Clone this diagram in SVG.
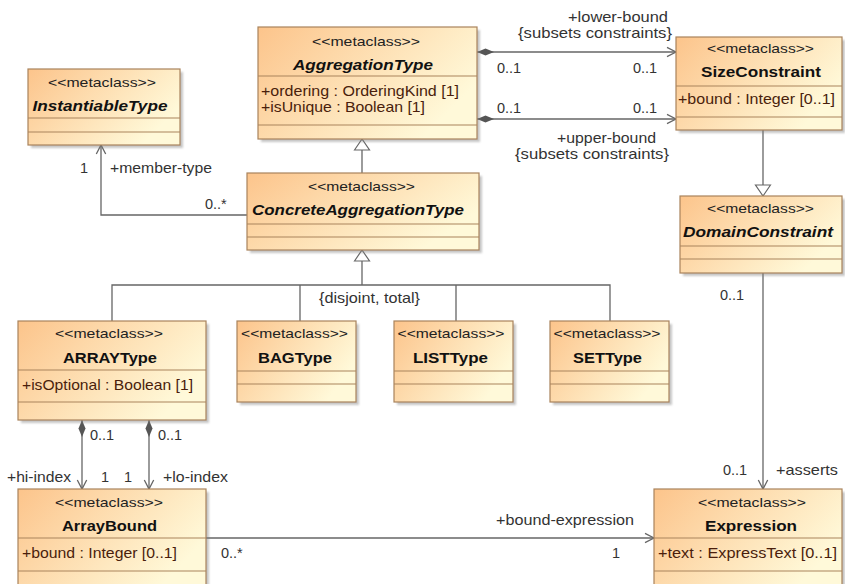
<svg xmlns="http://www.w3.org/2000/svg" width="845" height="584" viewBox="0 0 845 584">
<defs>
<linearGradient id="g" x1="0" y1="0" x2="1" y2="0.5">
<stop offset="0" stop-color="#FCC48B"/>
<stop offset="1" stop-color="#FFF9D9"/>
</linearGradient>
<filter id="blur" x="-5%" y="-5%" width="110%" height="110%"><feGaussianBlur stdDeviation="1"/></filter>
<marker id="arr" markerUnits="userSpaceOnUse" viewBox="0 0 12 12" markerWidth="12" markerHeight="12" refX="10" refY="6" orient="auto">
<path d="M1,1.3 L10,6 L1,10.7" fill="none" stroke="#666" stroke-width="1.3"/>
</marker>
<marker id="tri" markerUnits="userSpaceOnUse" viewBox="0 0 14 18" markerWidth="14" markerHeight="18" refX="12" refY="9" orient="auto">
<path d="M1,1.5 L12,9 L1,16.5 Z" fill="#fff" stroke="#666" stroke-width="1.2"/>
</marker>
<marker id="dia" markerUnits="userSpaceOnUse" viewBox="0 0 20 10" markerWidth="20" markerHeight="10" refX="0" refY="5" orient="auto">
<path d="M0,5 L8.5,1.5 L17,5 L8.5,8.5 Z" fill="#555"/>
</marker>
</defs>
<style>
.sh{fill:#808080;opacity:.45;filter:url(#blur)}
.box{fill:url(#g);stroke:#A9835C;stroke-width:1.2}
.dv{stroke:#A9835C;stroke-width:1.2}
text{font-family:"Liberation Sans",Arial,sans-serif}
.st{font-size:13px;text-anchor:middle;fill:#222}
.nm{font-size:15px;font-weight:bold;text-anchor:middle;fill:#111}
.it{font-style:italic}
.at{font-size:14.5px;fill:#4a1e0c}
.lb{font-size:14.5px;fill:#333}
.c{fill:none;stroke:#666;stroke-width:1.3}
</style>

<g id="connectors">
<path class="c" d="M247,215 H101 V145" marker-end="url(#arr)"/>
<path class="c" d="M362,173 V139" marker-end="url(#tri)"/>
<path class="c" d="M477,52 H676" marker-start="url(#dia)" marker-end="url(#arr)"/>
<path class="c" d="M477,119 H676" marker-start="url(#dia)" marker-end="url(#arr)"/>
<path class="c" d="M763,130 V196" marker-end="url(#tri)"/>
<path class="c" d="M362,285 V250" marker-end="url(#tri)"/>
<path class="c" d="M112,321 V285 H610 V321 M300,285 V321 M456,285 V321"/>
<path class="c" d="M82,420 V489" marker-start="url(#dia)" marker-end="url(#arr)"/>
<path class="c" d="M149,420 V489" marker-start="url(#dia)" marker-end="url(#arr)"/>
<path class="c" d="M206,538 H654" marker-end="url(#arr)"/>
<path class="c" d="M763,273 V489" marker-end="url(#arr)"/>
<text class="lb" x="80" y="173">1</text>
<text class="lb" x="110" y="173" textLength="102" lengthAdjust="spacingAndGlyphs">+member-type</text>
<text class="lb" x="205" y="209">0..*</text>
<text class="lb" x="568" y="21.5" textLength="100" lengthAdjust="spacingAndGlyphs">+lower-bound</text>
<text class="lb" x="518" y="38" textLength="154" lengthAdjust="spacingAndGlyphs">{subsets constraints}</text>
<text class="lb" x="497" y="73">0..1</text>
<text class="lb" x="633" y="73">0..1</text>
<text class="lb" x="497" y="113">0..1</text>
<text class="lb" x="633" y="113">0..1</text>
<text class="lb" x="557" y="143" textLength="99" lengthAdjust="spacingAndGlyphs">+upper-bound</text>
<text class="lb" x="515" y="158.5" textLength="154" lengthAdjust="spacingAndGlyphs">{subsets constraints}</text>
<text class="lb" x="319" y="303" textLength="101" lengthAdjust="spacingAndGlyphs">{disjoint, total}</text>
<text class="lb" x="720" y="300">0..1</text>
<text class="lb" x="90" y="440">0..1</text>
<text class="lb" x="158" y="440">0..1</text>
<text class="lb" x="7" y="482" textLength="64" lengthAdjust="spacingAndGlyphs">+hi-index</text>
<text class="lb" x="101" y="482">1</text>
<text class="lb" x="124" y="482">1</text>
<text class="lb" x="163" y="482" textLength="65" lengthAdjust="spacingAndGlyphs">+lo-index</text>
<text class="lb" x="221" y="558">0..*</text>
<text class="lb" x="723" y="475">0..1</text>
<text class="lb" x="776" y="475" textLength="62" lengthAdjust="spacingAndGlyphs">+asserts</text>
<text class="lb" x="496" y="525" textLength="138" lengthAdjust="spacingAndGlyphs">+bound-expression</text>
<text class="lb" x="612" y="558">1</text>
</g>

<g id="InstantiableType">
<rect class="sh" x="31" y="72" width="152" height="76"/>
<rect class="box" x="28" y="69" width="152" height="76"/>
<line class="dv" x1="28" y1="118" x2="180" y2="118"/>
<line class="dv" x1="28" y1="132" x2="180" y2="132"/>
<text class="st" x="102" y="87" textLength="108" lengthAdjust="spacingAndGlyphs">&lt;&lt;metaclass&gt;&gt;</text>
<text class="nm it" x="100" y="110.5" textLength="135" lengthAdjust="spacingAndGlyphs">InstantiableType</text>
</g>

<g id="AggregationType">
<rect class="sh" x="261" y="30" width="219" height="112"/>
<rect class="box" x="258" y="27" width="219" height="112"/>
<line class="dv" x1="258" y1="76" x2="477" y2="76"/>
<line class="dv" x1="258" y1="125" x2="477" y2="125"/>
<text class="st" x="366" y="45.5" textLength="108" lengthAdjust="spacingAndGlyphs">&lt;&lt;metaclass&gt;&gt;</text>
<text class="nm it" x="363" y="70" textLength="140" lengthAdjust="spacingAndGlyphs">AggregationType</text>
<text class="at" x="261" y="95.5" textLength="198" lengthAdjust="spacingAndGlyphs">+ordering : OrderingKind [1]</text>
<text class="at" x="261" y="111.5" textLength="164" lengthAdjust="spacingAndGlyphs">+isUnique : Boolean [1]</text>
</g>

<g id="ConcreteAggregationType">
<rect class="sh" x="250" y="176" width="232" height="77"/>
<rect class="box" x="247" y="173" width="232" height="77"/>
<line class="dv" x1="247" y1="224" x2="479" y2="224"/>
<line class="dv" x1="247" y1="237" x2="479" y2="237"/>
<text class="st" x="361.5" y="191" textLength="107" lengthAdjust="spacingAndGlyphs">&lt;&lt;metaclass&gt;&gt;</text>
<text class="nm it" x="358" y="215" textLength="212" lengthAdjust="spacingAndGlyphs">ConcreteAggregationType</text>
</g>

<g id="SizeConstraint">
<rect class="sh" x="679" y="40" width="166" height="93"/>
<rect class="box" x="676" y="37" width="166" height="93"/>
<line class="dv" x1="676" y1="86" x2="842" y2="86"/>
<line class="dv" x1="676" y1="117" x2="842" y2="117"/>
<text class="st" x="760.5" y="53" textLength="107" lengthAdjust="spacingAndGlyphs">&lt;&lt;metaclass&gt;&gt;</text>
<text class="nm" x="761" y="77" textLength="120" lengthAdjust="spacingAndGlyphs">SizeConstraint</text>
<text class="at" x="678" y="104" textLength="157" lengthAdjust="spacingAndGlyphs">+bound : Integer [0..1]</text>
</g>

<g id="DomainConstraint">
<rect class="sh" x="683" y="199" width="162" height="77"/>
<rect class="box" x="680" y="196" width="162" height="77"/>
<line class="dv" x1="680" y1="246" x2="842" y2="246"/>
<line class="dv" x1="680" y1="259" x2="842" y2="259"/>
<text class="st" x="760.5" y="213" textLength="107" lengthAdjust="spacingAndGlyphs">&lt;&lt;metaclass&gt;&gt;</text>
<text class="nm it" x="758" y="237" textLength="150" lengthAdjust="spacingAndGlyphs">DomainConstraint</text>
</g>

<g id="ARRAYType">
<rect class="sh" x="21" y="324" width="188" height="99"/>
<rect class="box" x="18" y="321" width="188" height="99"/>
<line class="dv" x1="18" y1="370" x2="206" y2="370"/>
<line class="dv" x1="18" y1="402" x2="206" y2="402"/>
<text class="st" x="109" y="338" textLength="108" lengthAdjust="spacingAndGlyphs">&lt;&lt;metaclass&gt;&gt;</text>
<text class="nm" x="110" y="362.5" textLength="94" lengthAdjust="spacingAndGlyphs">ARRAYType</text>
<text class="at" x="22" y="390" textLength="171" lengthAdjust="spacingAndGlyphs">+isOptional : Boolean [1]</text>
</g>

<g id="BAGType">
<rect class="sh" x="240" y="324" width="119" height="81"/>
<rect class="box" x="237" y="321" width="119" height="81"/>
<line class="dv" x1="237" y1="371" x2="356" y2="371"/>
<line class="dv" x1="237" y1="384" x2="356" y2="384"/>
<text class="st" x="294.5" y="338" textLength="107" lengthAdjust="spacingAndGlyphs">&lt;&lt;metaclass&gt;&gt;</text>
<text class="nm" x="295" y="362.5" textLength="74" lengthAdjust="spacingAndGlyphs">BAGType</text>
</g>

<g id="LISTType">
<rect class="sh" x="397" y="324" width="119" height="81"/>
<rect class="box" x="394" y="321" width="119" height="81"/>
<line class="dv" x1="394" y1="371" x2="513" y2="371"/>
<line class="dv" x1="394" y1="384" x2="513" y2="384"/>
<text class="st" x="451" y="338" textLength="107" lengthAdjust="spacingAndGlyphs">&lt;&lt;metaclass&gt;&gt;</text>
<text class="nm" x="450.5" y="362.5" textLength="75" lengthAdjust="spacingAndGlyphs">LISTType</text>
</g>

<g id="SETType">
<rect class="sh" x="553" y="324" width="119" height="81"/>
<rect class="box" x="550" y="321" width="119" height="81"/>
<line class="dv" x1="550" y1="371" x2="669" y2="371"/>
<line class="dv" x1="550" y1="384" x2="669" y2="384"/>
<text class="st" x="607" y="338" textLength="107" lengthAdjust="spacingAndGlyphs">&lt;&lt;metaclass&gt;&gt;</text>
<text class="nm" x="607.5" y="362.5" textLength="69" lengthAdjust="spacingAndGlyphs">SETType</text>
</g>

<g id="ArrayBound">
<rect class="sh" x="21" y="492" width="188" height="100"/>
<rect class="box" x="18" y="489" width="188" height="100"/>
<line class="dv" x1="18" y1="538" x2="206" y2="538"/>
<line class="dv" x1="18" y1="571" x2="206" y2="571"/>
<text class="st" x="109" y="506.5" textLength="108" lengthAdjust="spacingAndGlyphs">&lt;&lt;metaclass&gt;&gt;</text>
<text class="nm" x="109.5" y="530.5" textLength="95" lengthAdjust="spacingAndGlyphs">ArrayBound</text>
<text class="at" x="22" y="558" textLength="155" lengthAdjust="spacingAndGlyphs">+bound : Integer [0..1]</text>
</g>

<g id="Expression">
<rect class="sh" x="657" y="492" width="188" height="100"/>
<rect class="box" x="654" y="489" width="188" height="100"/>
<line class="dv" x1="654" y1="538" x2="842" y2="538"/>
<line class="dv" x1="654" y1="571" x2="842" y2="571"/>
<text class="st" x="752" y="506.5" textLength="108" lengthAdjust="spacingAndGlyphs">&lt;&lt;metaclass&gt;&gt;</text>
<text class="nm" x="751" y="530.5" textLength="92" lengthAdjust="spacingAndGlyphs">Expression</text>
<text class="at" x="658" y="558" textLength="179" lengthAdjust="spacingAndGlyphs">+text : ExpressText [0..1]</text>
</g>
</svg>
